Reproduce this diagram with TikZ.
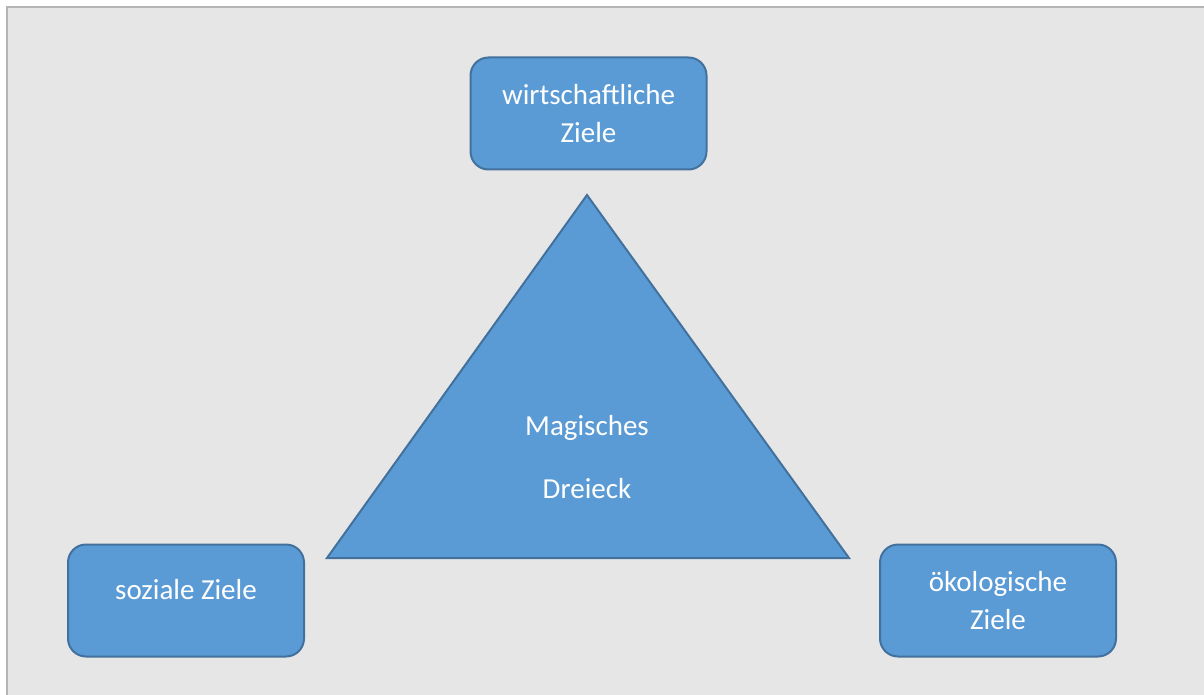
\documentclass[tikz,border=0pt]{standalone}
\usepackage{fontspec}
\setmainfont{Carlito}
\definecolor{boxfill}{HTML}{5B9BD5}
\definecolor{boxline}{HTML}{41719C}
\definecolor{bg}{HTML}{E7E6E6}
\definecolor{frame}{HTML}{B4B4B4}
\begin{document}
\begin{tikzpicture}[x=1pt,y=-1pt,
  goal/.style={draw=boxline, fill=boxfill, line width=2pt, rounded corners=18pt,
    minimum width=236pt, minimum height=112pt, inner sep=0pt, text=white,
    align=center, font=\fontsize{29}{38}\selectfont},
  lbl/.style={text=white, font=\fontsize{29}{38}\selectfont, inner sep=0pt}]
\useasboundingbox (0,0) rectangle (1204,695);
\fill[white] (0,0) rectangle (1204,695);
\draw[frame, fill=bg, line width=2pt] (7,7) rectangle (1215,706);
\draw[boxline, fill=boxfill, line width=2pt, line join=miter]
  (587,195) -- (849,558) -- (327,558) -- cycle;
\node[lbl] (m1) at (587,428) {Magisches};
\node[lbl] (m2) at (587,489) {Dreieck};
\node[goal] (w) at (588.5,113.5) {wirtschaftliche\\Ziele};
\node[goal] (s) at (186,600.5) {\raisebox{22pt}{soziale Ziele}};
\node[goal] (o) at (998,600.5) {ökologische\\Ziele};
\end{tikzpicture}
\end{document}
